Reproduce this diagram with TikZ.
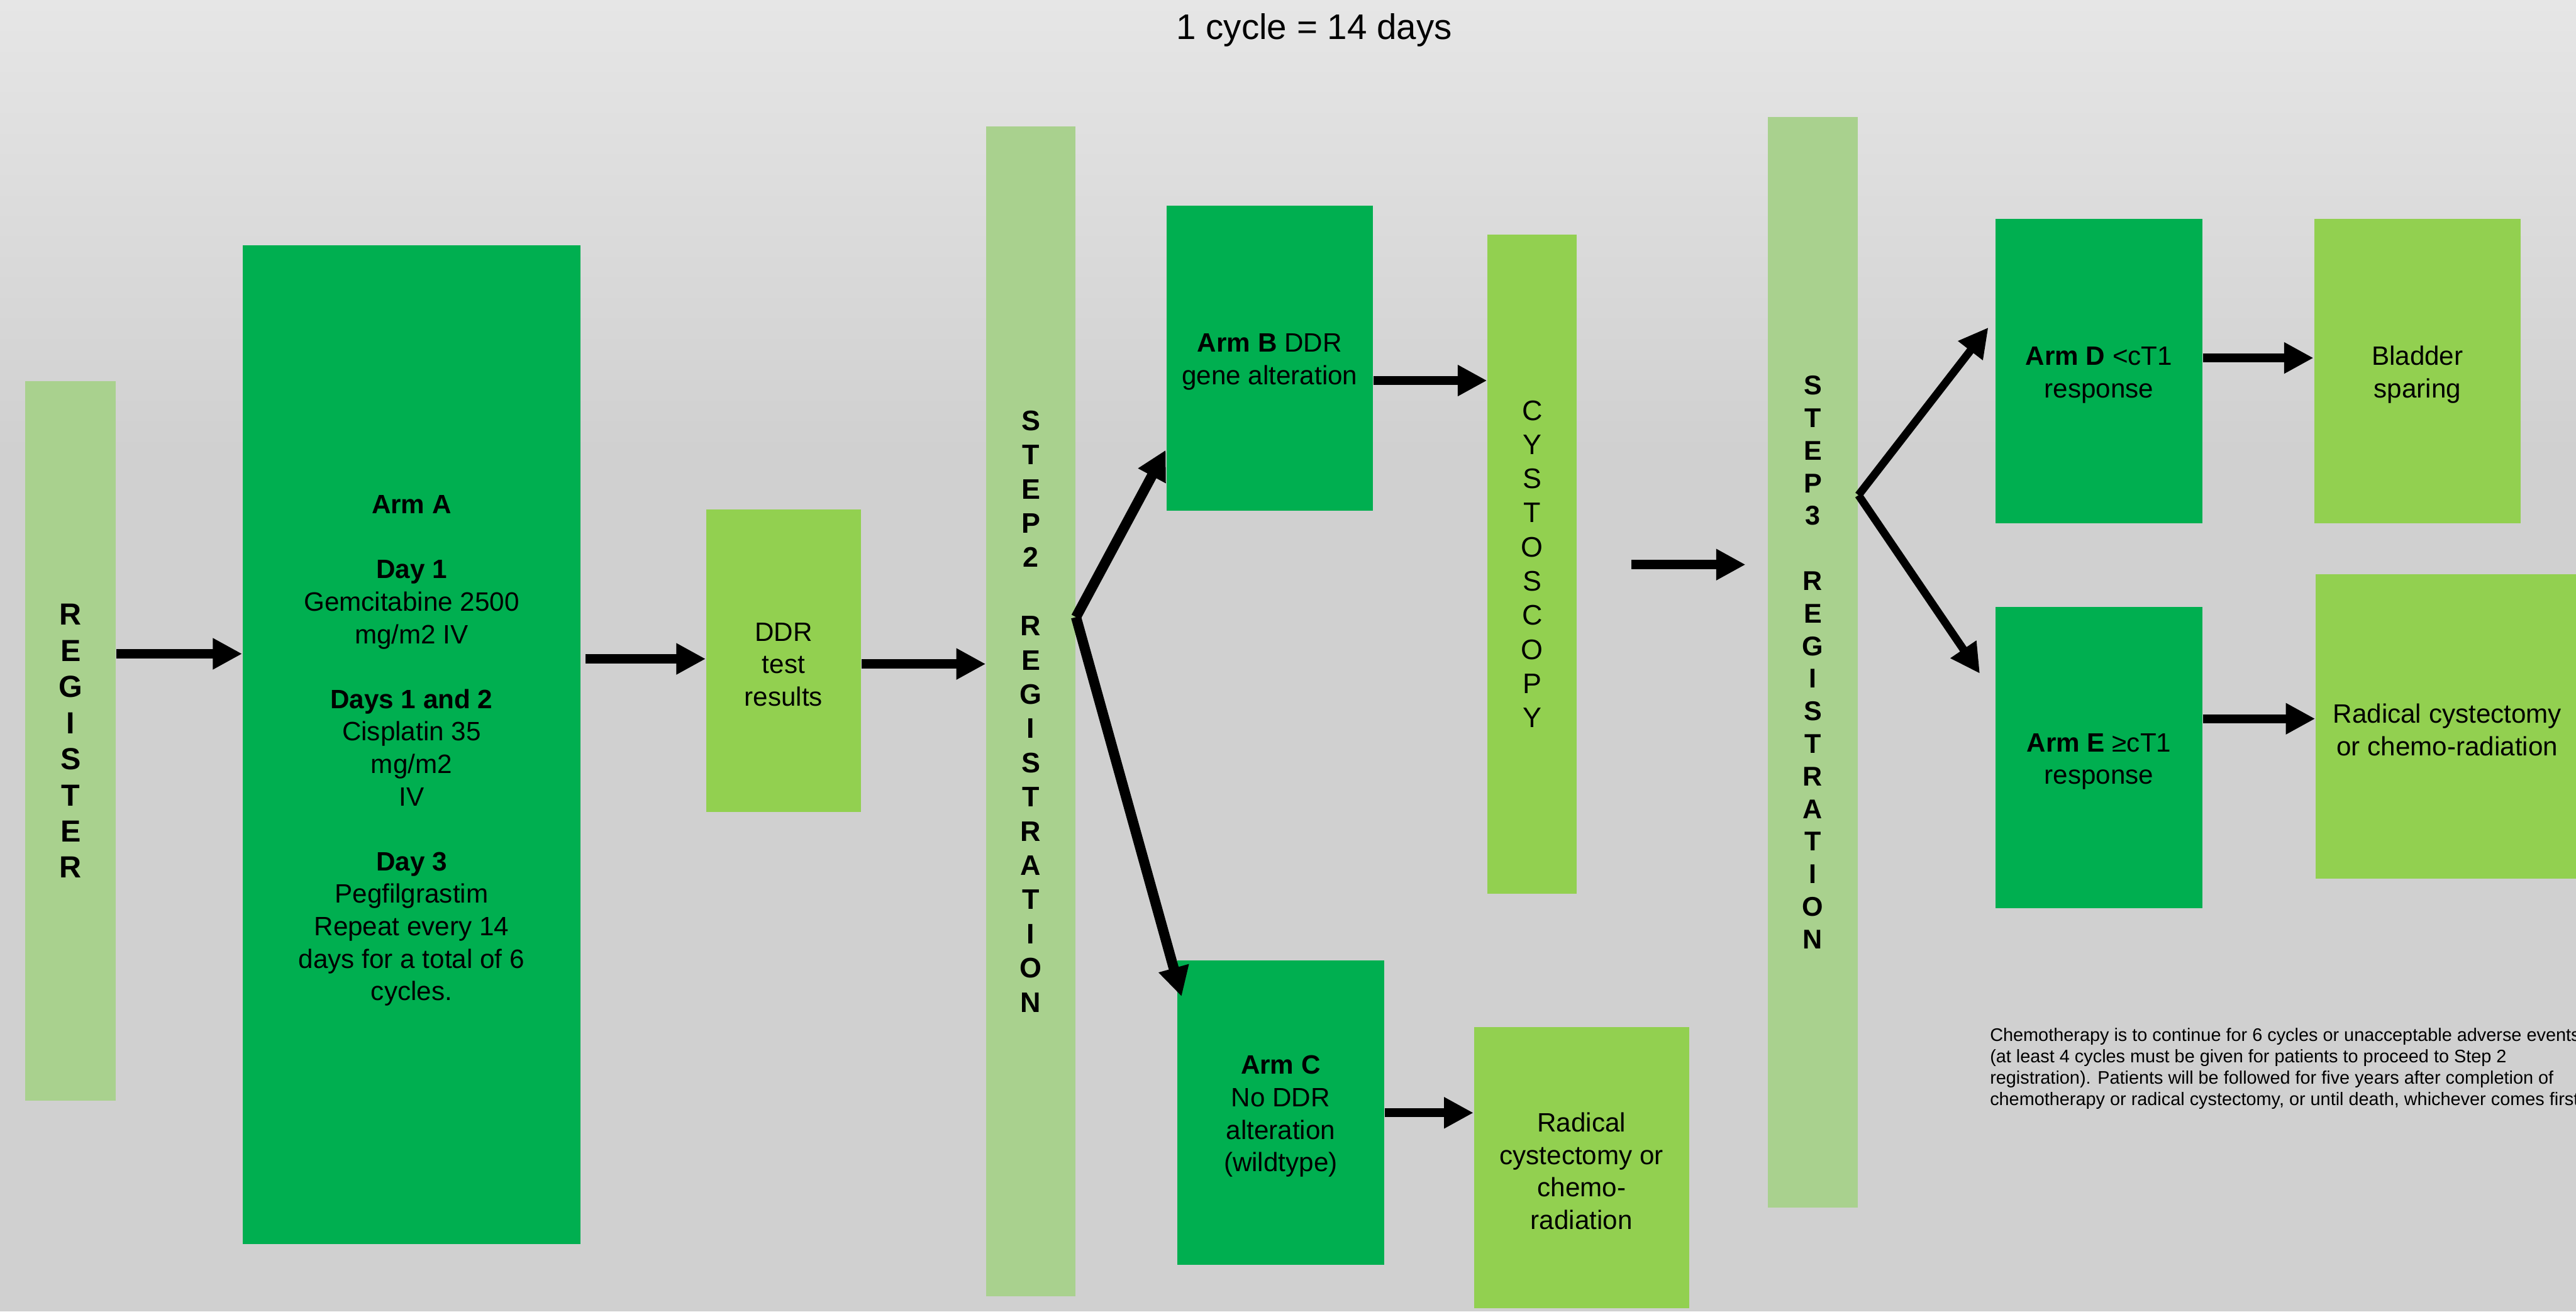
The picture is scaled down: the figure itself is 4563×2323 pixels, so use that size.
\documentclass[tikz,border=0pt]{standalone}
\usepackage{fontspec}
\setmainfont{Liberation Sans}
\usetikzlibrary{arrows.meta,calc}
\definecolor{dkgreen}{HTML}{00AF50}
\definecolor{ltgreen}{HTML}{92D050}
\definecolor{palegreen}{HTML}{A9D18E}
\definecolor{bgtop}{HTML}{E6E6E6}
\definecolor{bgbot}{HTML}{D0D0D0}
\newcommand\fsz[2]{\fontsize{#1}{#2}\selectfont}
\newcommand\tpad{\rule{0pt}{9.3pt}}
\begin{document}
\begin{tikzpicture}[x=0.2pt,y=-0.2pt,
  box/.style={rectangle, inner sep=0pt, align=center, text=black, font=\fsz{9.4pt}{11.5pt}},
  dk/.style={box, fill=dkgreen},
  lt/.style={box, fill=ltgreen},
  pl/.style={box, fill=palegreen},
  arr/.style={line width=3.2pt, -{Triangle[length=10.4pt,width=10.4pt]}},
  arrtwo/.style={line width=3.6pt, -{Triangle[length=10.4pt,width=10.4pt]}},
  arrthree/.style={line width=2.8pt, -{Triangle[length=10.4pt,width=10.4pt]}}]
% background
\shade[top color=bgtop, bottom color=bgbot] (0,0) rectangle (4563,800);
\fill[bgbot] (0,799) rectangle (4563,2323);
\useasboundingbox (0,0) rectangle (4563,2323);

% title
\node[inner sep=0pt, font=\fsz{12.6pt}{15pt}] (title) at (2328,53) {1 cycle = 14 days};

% boxes
\node[pl, minimum width=32pt, minimum height=255pt, font=\bfseries\fsz{10.8pt}{12.8pt}] (reg) at (125,1312.5)
  {R\\E\\G\\I\\S\\T\\E\\R};
\node[dk, minimum width=119.6pt, minimum height=353.8pt] (armA) at (729,1318.5)
  {\rule{0pt}{10.9pt}\textbf{Arm A}\\[11.5pt]
   \textbf{Day 1}\\Gemcitabine 2500\\mg/m2 IV\\[11.5pt]
   \textbf{Days 1 and 2}\\Cisplatin 35\\mg/m2\\IV\\[11.5pt]
   \textbf{Day 3}\\Pegfilgrastim\\Repeat every 14\\days for a total of 6\\cycles.};
\node[lt, minimum width=54.8pt, minimum height=107.2pt] (ddr) at (1388,1170)
  {\tpad DDR\\test\\results};
\node[pl, minimum width=31.6pt, minimum height=414.4pt, font=\bfseries\fsz{10pt}{12.12pt}] (step2) at (1826,1260)
  {S\\T\\E\\P\\2\\\mbox{}\\R\\E\\G\\I\\S\\T\\R\\A\\T\\I\\O\\N};
\node[dk, minimum width=73.2pt, minimum height=108pt] (armB) at (2249,634)
  {\tpad\textbf{Arm B} DDR\\gene alteration};
\node[lt, minimum width=31.6pt, minimum height=233.6pt, font=\fsz{10pt}{12.1pt}] (cysto) at (2714,999)
  {C\\Y\\S\\T\\O\\S\\C\\O\\P\\Y};
\node[dk, minimum width=73.4pt, minimum height=107.8pt] (armC) at (2268.5,1970.5)
  {\tpad\textbf{Arm C}\\No DDR\\alteration\\(wildtype)};
\node[lt, minimum width=76.2pt, minimum height=99.6pt] (rad1) at (2801.5,2068)
  {\tpad Radical\\cystectomy or\\chemo-\\radiation};
\node[pl, minimum width=32pt, minimum height=386.4pt, font=\bfseries\fsz{9.6pt}{11.54pt}] (step3) at (3211,1173)
  {S\\T\\E\\P\\3\\\mbox{}\\R\\E\\G\\I\\S\\T\\R\\A\\T\\I\\O\\N};
\node[dk, minimum width=73.2pt, minimum height=107.8pt] (armD) at (3718,657.5)
  {\tpad\textbf{Arm D} <cT1\\response};
\node[lt, minimum width=73.2pt, minimum height=107.8pt] (bladder) at (4282,657.5)
  {\tpad Bladder\\sparing};
\node[dk, minimum width=73.2pt, minimum height=106.8pt] (armE) at (3718,1342)
  {\tpad\textbf{Arm E} ≥cT1\\response};
\node[lt, minimum width=93.2pt, minimum height=107.8pt] (rad2) at (4335,1286.5)
  {\tpad Radical cystectomy\\or chemo-radiation};

% footnote
\node[anchor=north west, inner sep=0pt, align=left, font=\fsz{6.43pt}{7.54pt}] (note) at (3524,1820)
  {Chemotherapy is to continue for 6 cycles or unacceptable adverse events\\
   (at least 4 cycles must be given for patients to proceed to Step 2\\
   registration). Patients will be followed for five years after completion of\\
   chemotherapy or radical cystectomy, or until death, whichever comes first};

% arrow levels
\coordinate (y1) at (0,1158);
\coordinate (y2) at (0,1167);
\coordinate (y3) at (0,1176);
\coordinate (y4) at (0,674);
\coordinate (y6) at (0,1971);
\coordinate (y7) at (0,634);
\coordinate (y8) at (0,1273);
\coordinate (yf2) at (0,1093);
\coordinate (yt2) at (0,797);
\coordinate (yf3) at (0,877);
\coordinate (m1) at (2890,1000);

\draw[arr] (reg.east |- y1) -- (armA.west |- y1);
\draw[arr] ([xshift=1.6pt]armA.east |- y2) -- (ddr.west |- y2);
\draw[arr] (ddr.east |- y3) -- (step2.west |- y3);
\draw[arr] (armB.east |- y4) -- (cysto.west |- y4);
\draw[arr, shorten >=7.6pt] (m1) -- (step3.west |- m1);
\draw[arr] (armC.east |- y6) -- (rad1.west |- y6);
\draw[arr] (armD.east |- y7) -- (bladder.west |- y7);
\draw[arr] (armE.east |- y8) -- (rad2.west |- y8);

\coordinate (f2) at (step2.east |- yf2);
\draw[arrtwo] (f2) -- (armB.west |- yt2);
\draw[arrtwo] (f2) -- ($(armC.north west)+(9,65)$);

\coordinate (f3) at (step3.east |- yf3);
\draw[arrthree] (f3) -- ($(armD.north west)+(-12,193)$);
\draw[arrthree] (f3) -- ($(armE.north west)+(-27,119)$);
\end{tikzpicture}
\end{document}
